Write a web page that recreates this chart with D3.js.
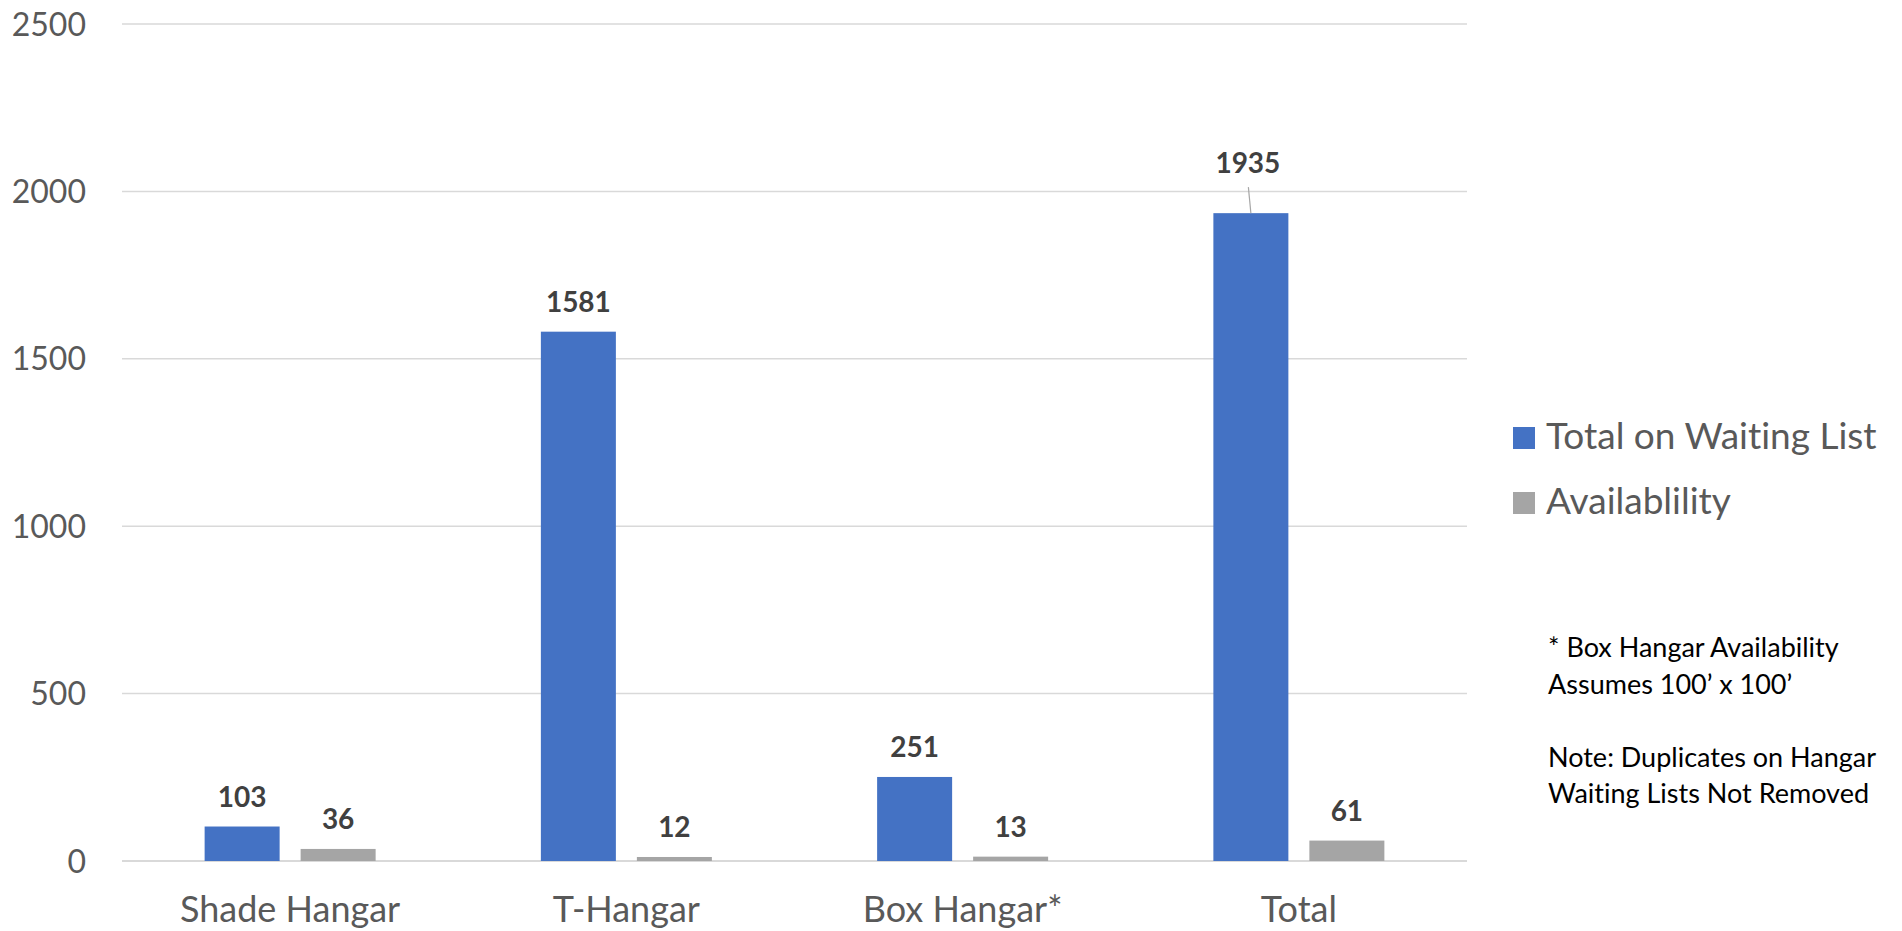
<!DOCTYPE html>
<html>
<head>
<meta charset="utf-8">
<script src="https://cdn.jsdelivr.net/npm/d3@7/dist/d3.min.js"></script>
<style>
  html, body { margin: 0; padding: 0; background: #fff; }
  svg { display: block; font-family: Lato, "Open Sans", sans-serif; font-variant-ligatures: none; }
</style>
</head>
<body>
<svg id="chart" width="1902" height="931"></svg>
<script>
// Hangar categories and the two series per category
const categories = ["Shade Hangar", "T-Hangar", "Box Hangar*", "Total"];
const seriesNames = ["Total on Waiting List", "Availablility"];
const waitingList = [103, 1581, 251, 1935];
const availability = [36, 12, 13, 61];
const yTicks = [0, 500, 1000, 1500, 2000, 2500];
const noteLines = [
  "* Box Hangar Availability",
  "Assumes 100\u2019 x 100\u2019",
  "",
  "Note: Duplicates on Hangar",
  "Waiting Lists Not Removed"
];

const colors = ["#4472C4", "#A5A5A5"];
const seriesValues = [waitingList, availability];

const svg = d3.select("#chart");
const plot = { left: 122, right: 1467, top: 24, bottom: 861 };

const y = d3.scaleLinear().domain([0, 2500]).range([plot.bottom, plot.top]);
const x = d3.scaleBand().domain(categories).range([plot.left, plot.right]).padding(0);

const groupW = 171;
const off = (x.bandwidth() - groupW) / 2;
const xs = d3.scaleBand().domain(seriesNames).range([off, off + groupW]).paddingInner(21 / 96).paddingOuter(0);

// Horizontal gridlines
svg.append("g").selectAll("line").data(yTicks).join("line")
  .attr("x1", plot.left).attr("x2", plot.right)
  .attr("y1", d => y(d)).attr("y2", d => y(d))
  .attr("stroke", "#d9d9d9")
  .attr("stroke-width", d => d === 0 ? 2 : 1.5);

// Y tick labels
svg.append("g").selectAll("text").data(yTicks).join("text")
  .attr("x", 86).attr("y", d => y(d) + 11.5)
  .attr("text-anchor", "end")
  .attr("font-size", 32).attr("fill", "#595959")
  .text(d => d);

// Bars
const rows = [];
categories.forEach((c, i) => {
  seriesNames.forEach((s, j) => rows.push({ cat: c, series: s, j, value: seriesValues[j][i] }));
});

svg.append("g").selectAll("rect").data(rows).join("rect")
  .attr("x", d => x(d.cat) + xs(d.series))
  .attr("width", xs.bandwidth())
  .attr("y", d => y(d.value))
  .attr("height", d => y(0) - y(d.value))
  .attr("fill", d => colors[d.j]);

// Value labels; the tallest bar's label is lifted clear of the 2000 gridline with a leader line
const lifted = { cat: "Total", series: "Total on Waiting List", dx: -3, rise: 40 };
const labels = svg.append("g");
rows.forEach(d => {
  const cx = x(d.cat) + xs(d.series) + xs.bandwidth() / 2;
  const top = y(d.value);
  const isLifted = d.cat === lifted.cat && d.series === lifted.series;
  const ly = isLifted ? top - lifted.rise : top - 20;
  const lx = isLifted ? cx + lifted.dx : cx;
  if (isLifted) {
    labels.append("line")
      .attr("x1", lx + 0.5).attr("y1", ly + 14)
      .attr("x2", cx).attr("y2", top)
      .attr("stroke", "#a6a6a6").attr("stroke-width", 1.2);
  }
  labels.append("text")
    .attr("x", lx).attr("y", ly)
    .attr("text-anchor", "middle")
    .attr("font-size", 28).attr("font-weight", "bold")
    .attr("fill", "#404040")
    .text(d.value);
});

// Category labels
svg.append("g").selectAll("text").data(categories).join("text")
  .attr("x", d => x(d) + x.bandwidth() / 2)
  .attr("y", 922)
  .attr("text-anchor", "middle")
  .attr("font-size", 36).attr("fill", "#595959")
  .text(d => d);

// Legend
const legend = svg.append("g");
seriesNames.forEach((s, j) => {
  const ly = 427 + j * 65;
  legend.append("rect").attr("x", 1513).attr("y", ly).attr("width", 22).attr("height", 22).attr("fill", colors[j]);
  legend.append("text").attr("x", 1546).attr("y", ly + 22)
    .attr("font-size", 37).attr("fill", "#595959").text(s);
});

// Footnotes
svg.append("g").selectAll("text").data(noteLines).join("text")
  .attr("x", 1548)
  .attr("y", (d, i) => 657 + i * 36.5)
  .attr("font-size", 27).attr("fill", "#000")
  .text(d => d);
</script>
</body>
</html>
